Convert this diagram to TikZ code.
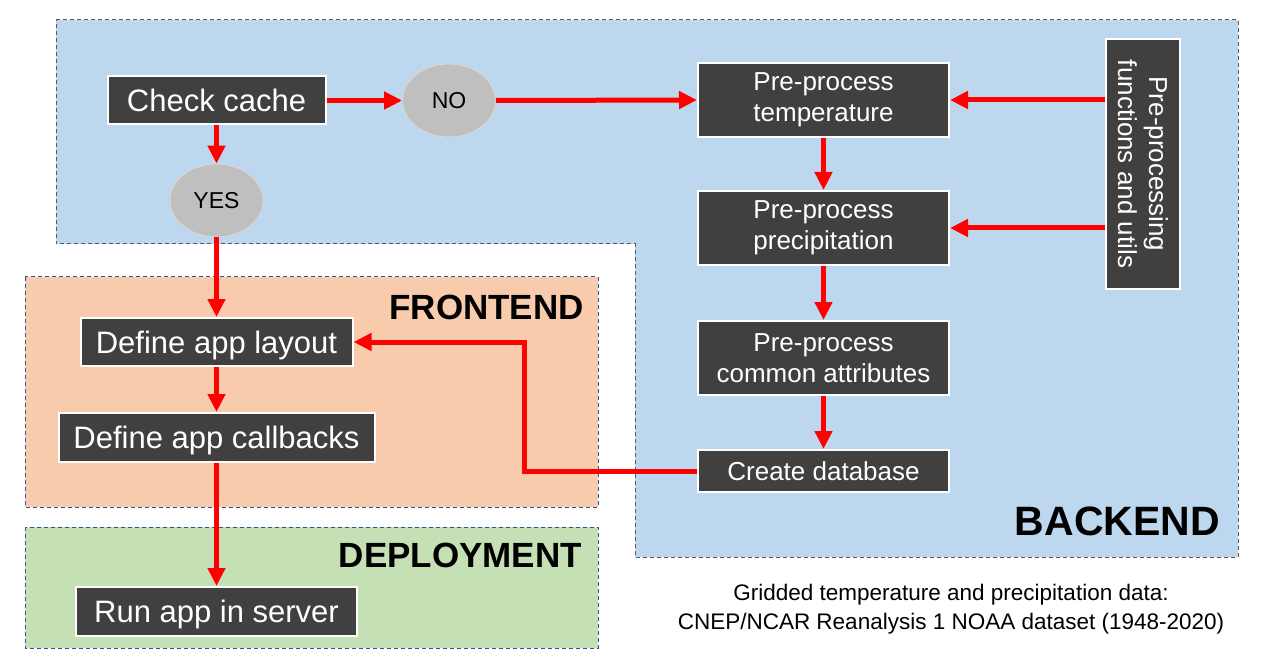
\documentclass[tikz,border=0pt]{standalone}
\usepackage{fontspec}
\setmainfont{Liberation Sans}
\usetikzlibrary{arrows.meta,shapes.geometric}
\definecolor{backfill}{HTML}{BDD7EE}
\definecolor{frontfill}{HTML}{F8CBAD}
\definecolor{deployfill}{HTML}{C5E0B4}
\definecolor{boxgray}{HTML}{404040}
\definecolor{ellgray}{HTML}{BFBFBF}
\definecolor{ellborder}{HTML}{D9D9D9}
\definecolor{regionblue}{HTML}{2F5597}
\definecolor{regiongray}{HTML}{595959}
\tikzset{
  region/.style={line width=1pt, dash pattern=on 4pt off 3pt},
  darkbox/.style={draw=white, line width=2pt, fill=boxgray, text=white, inner sep=0pt, align=center, rectangle},
  bigtxt/.style={font=\fontsize{31}{34}\selectfont},
  midtxt/.style={font=\fontsize{26}{31}\selectfont},
  bigline/.style={text height=22pt, text depth=0pt},
  midline/.style={text height=18.7pt, text depth=0pt},
  decision/.style={ellipse, draw=ellborder, line width=0.8pt, fill=ellgray, text=black, inner sep=0pt, minimum width=93pt, minimum height=73pt, font=\fontsize{23}{25}\selectfont},
  arr/.style={draw=red, line width=5pt, -{Triangle[length=18pt,width=17pt]}},
  regionlabel/.style={anchor=east, inner sep=0pt, font=\bfseries\fontsize{35}{38}\selectfont}
}
\begin{document}
\begin{tikzpicture}[x=1pt,y=-1pt]
\useasboundingbox (0,0) rectangle (1275,663);
% regions
\draw[region, draw=regiongray, fill=backfill] (56,20) -- (1238,20) -- (1238,557) -- (635,557) -- (635,244) -- (56,244) -- cycle;
\draw[region, draw=regionblue, fill=frontfill] (25,277) rectangle (598,507);
\draw[region, draw=regionblue, fill=deployfill] (25,527) rectangle (598,648);
% labels
\node[regionlabel] (lfront) at (584,307) {FRONTEND};
\node[regionlabel] (ldeploy) at (582,555) {DEPLOYMENT};
\node[regionlabel, font=\bfseries\fontsize{41}{44}\selectfont] (lback) at (1220,521) {BACKEND};
\node[align=center, inner sep=0pt, font=\fontsize{22.5}{29}\selectfont] (caption) at (951,609) {Gridded temperature and precipitation data:\\CNEP/NCAR Reanalysis 1 NOAA dataset (1948-2020)};
% nodes
\node[darkbox, bigtxt, bigline, minimum width=218pt, minimum height=48pt] (check) at (216.5,100.5) {Check cache};
\node[decision] (no) at (449,100.5) {NO};
\node[decision] (yes) at (216.5,200.5) {YES};
\node[darkbox, midtxt, minimum width=251pt, minimum height=74pt] (temp) at (823.5,100) {Pre-process\\temperature};
\node[darkbox, midtxt, minimum width=251pt, minimum height=74pt] (precip) at (823.5,228) {Pre-process\\precipitation};
\node[darkbox, midtxt, minimum width=251pt, minimum height=74pt] (common) at (823.5,358) {Pre-process\\common attributes};
\node[darkbox, midtxt, midline, minimum width=251pt, minimum height=42pt] (db) at (823.5,471) {Create database};
\node[darkbox, midtxt, rotate=-90, minimum width=250pt, minimum height=74pt] (utils) at (1143,164) {Pre-processing\\functions and utils};
\node[darkbox, bigtxt, bigline, minimum width=272pt, minimum height=48pt] (layout) at (216.5,342) {Define app layout};
\node[darkbox, bigtxt, bigline, minimum width=316pt, minimum height=49pt] (callbacks) at (216.5,437.5) {Define app callbacks};
\node[darkbox, bigtxt, bigline, minimum width=281pt, minimum height=49pt] (run) at (216.5,611.5) {Run app in server};
\coordinate (elbow) at (524,471);
% connectors
\draw[arr] (check.east) -- (no.west);
\draw[arr] (no.east) -- (temp.west);
\draw[arr] (check.south) -- (yes.north);
\draw[arr] (yes.south) -- (layout.north);
\draw[arr] (utils.south |- temp.east) -- (temp.east);
\draw[arr] (utils.south |- precip.east) -- (precip.east);
\draw[arr] (temp.south) -- (precip.north);
\draw[arr] (precip.south) -- (common.north);
\draw[arr] (common.south) -- (db.north);
\draw[arr] (db.west) -- (elbow) |- (layout.east);
\draw[arr] (layout.south) -- (callbacks.north);
\draw[arr] (callbacks.south) -- (run.north);
\end{tikzpicture}
\end{document}
